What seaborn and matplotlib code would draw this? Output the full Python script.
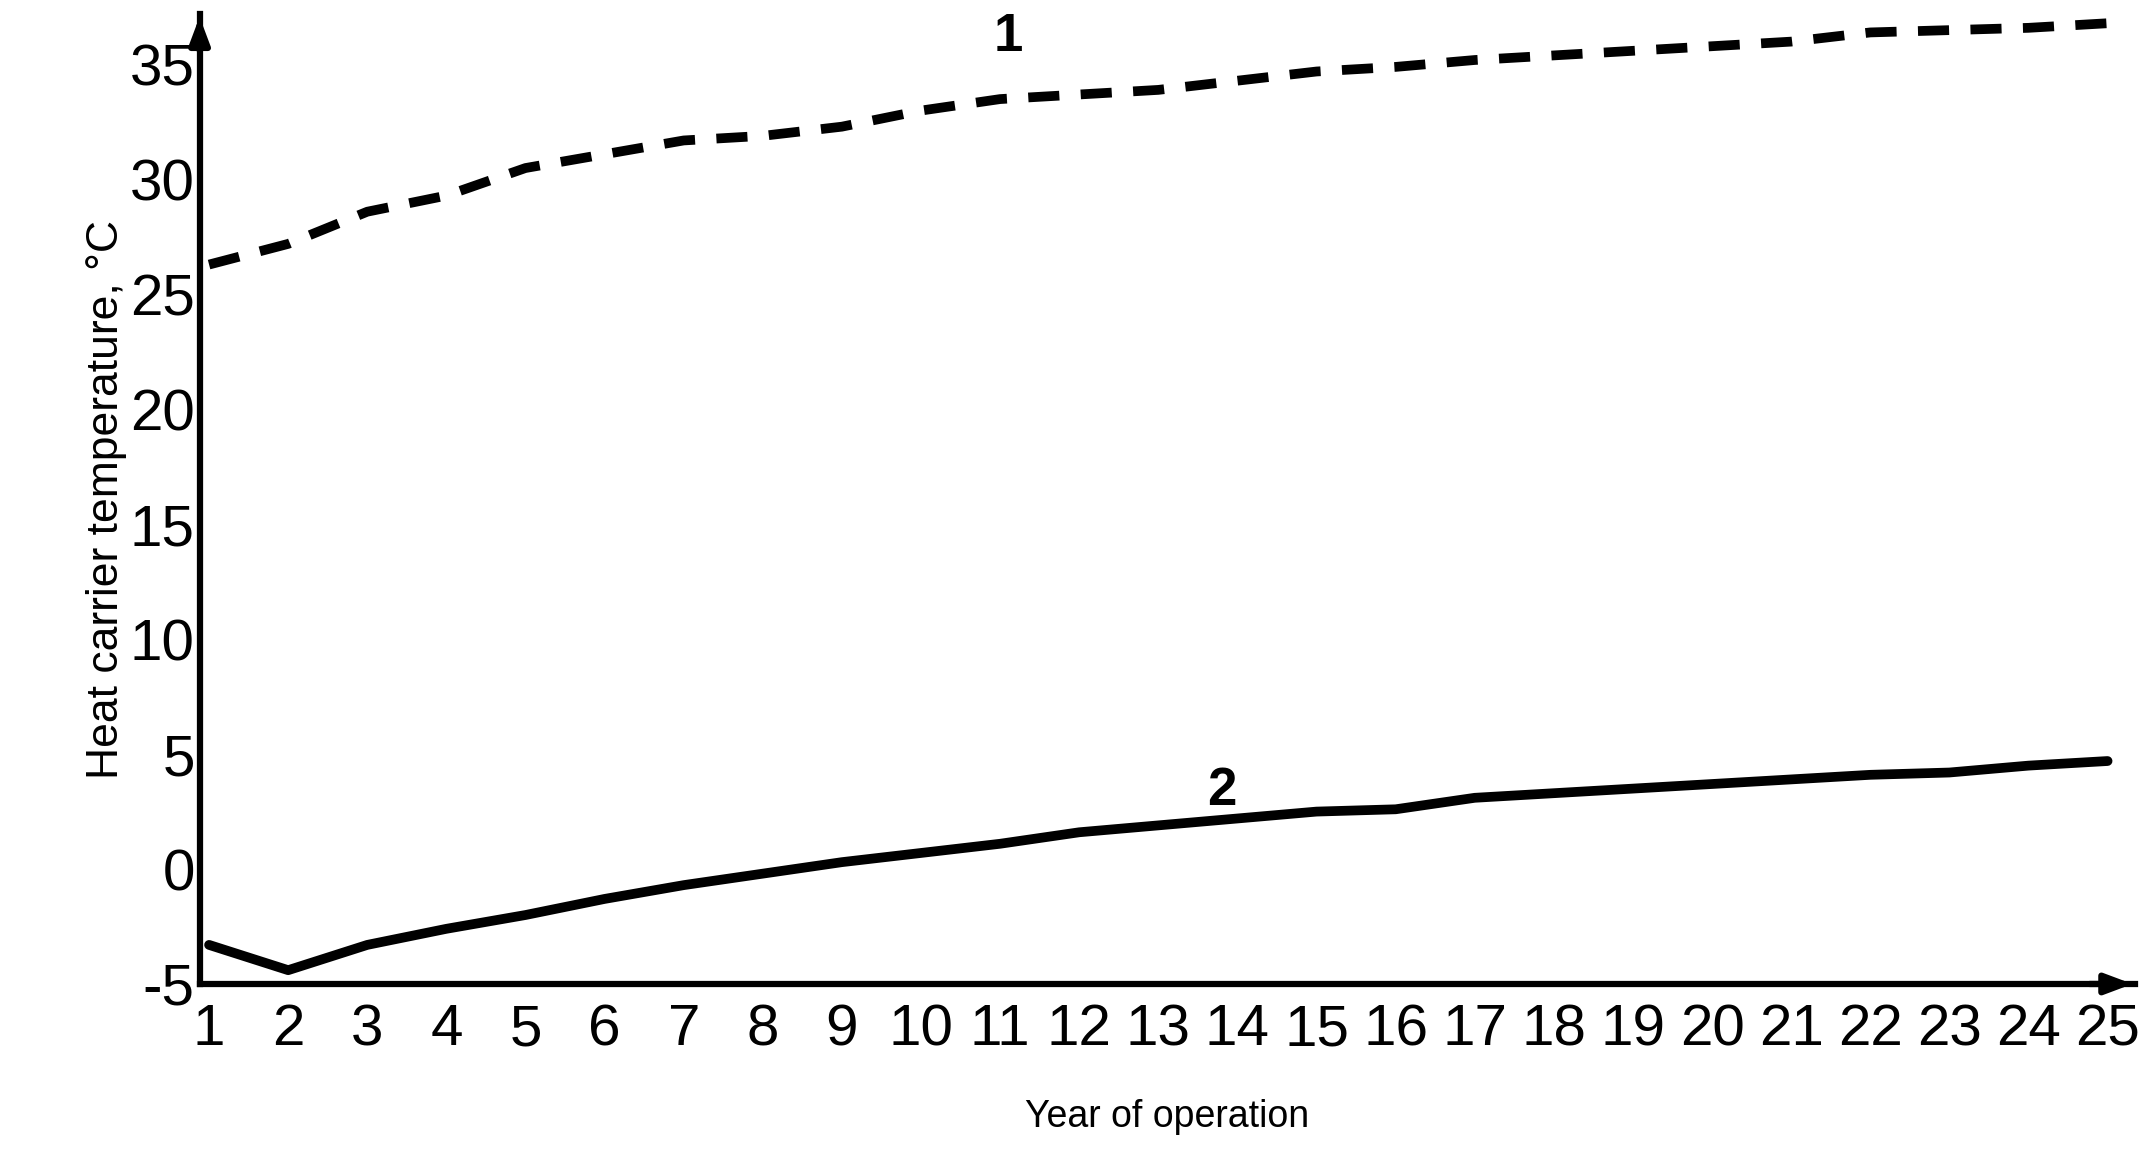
import matplotlib
matplotlib.use("Agg")
import matplotlib.pyplot as plt
import pandas as pd
import seaborn as sns

years = list(range(1, 26))
temp_line1 = [26.3, 27.2, 28.6, 29.3, 30.5, 31.1, 31.7, 31.9, 32.3, 33.0, 33.5, 33.7, 33.9,
              34.3, 34.7, 34.9, 35.2, 35.4, 35.6, 35.8, 36.0, 36.4, 36.5, 36.6, 36.8]
temp_line2 = [-3.3, -4.4, -3.3, -2.6, -2.0, -1.3, -0.7, -0.2, 0.3, 0.7, 1.1, 1.6, 1.9,
              2.2, 2.5, 2.6, 3.1, 3.3, 3.5, 3.7, 3.9, 4.1, 4.2, 4.5, 4.7]
y_ticks = [-5, 0, 5, 10, 15, 20, 25, 30, 35]

sns.set_style("white")
plt.rcParams['font.family'] = ['Liberation Sans', 'DejaVu Sans']
plt.rcParams['axes.unicode_minus'] = False

df = pd.DataFrame({"year": years, "l1": temp_line1, "l2": temp_line2})

fig = plt.figure(figsize=(21.46, 11.70), dpi=100)
ax = fig.add_axes([0.093, 0.159, 0.902, 0.829])
sns.lineplot(data=df, x="year", y="l1", ax=ax, color="black", lw=7)
ax.lines[-1].set_dashes([3.2, 2.2])
sns.lineplot(data=df, x="year", y="l2", ax=ax, color="black", lw=7)

ax.set_xlim(0.88, 25.35)
ax.set_ylim(-5, 37.2)
ax.set_xticks(years)
ax.set_yticks(y_ticks)
ax.tick_params(axis="both", labelsize=42, length=6, width=3, direction="in",
               colors="black", labelcolor="black")
ax.tick_params(axis="x", pad=14)
for lab in ax.get_xticklabels():
    lab.set_fontstretch("condensed")
    lab.set_transform(lab.get_transform() + matplotlib.transforms.ScaledTranslation(0, 0, fig.dpi_scale_trans))
for s in ["top", "right"]:
    ax.spines[s].set_visible(False)
for s in ["left", "bottom"]:
    ax.spines[s].set_linewidth(4.5)
    ax.spines[s].set_color("black")
ax.annotate("", xy=(1.0, 0), xycoords="axes fraction", xytext=(0.975, 0),
            arrowprops=dict(arrowstyle="-|>,head_length=1.6,head_width=0.6", color="black", lw=4.5))
ax.annotate("", xy=(0, 1.0), xycoords="axes fraction", xytext=(0, 0.96),
            arrowprops=dict(arrowstyle="-|>,head_length=1.6,head_width=0.6", color="black", lw=4.5))

ax.set_xlabel("Year of operation", fontsize=27, color="black", labelpad=30)
ax.set_ylabel("Heat carrier temperature, °C", fontsize=32, color="black", labelpad=2)
ax.text(11.1, 35.6, "1", fontsize=38, fontweight="bold", ha="center", color="black")
ax.text(13.8, 2.8, "2", fontsize=38, fontweight="bold", ha="center", color="black")

fig.savefig("out.png", dpi=100)
